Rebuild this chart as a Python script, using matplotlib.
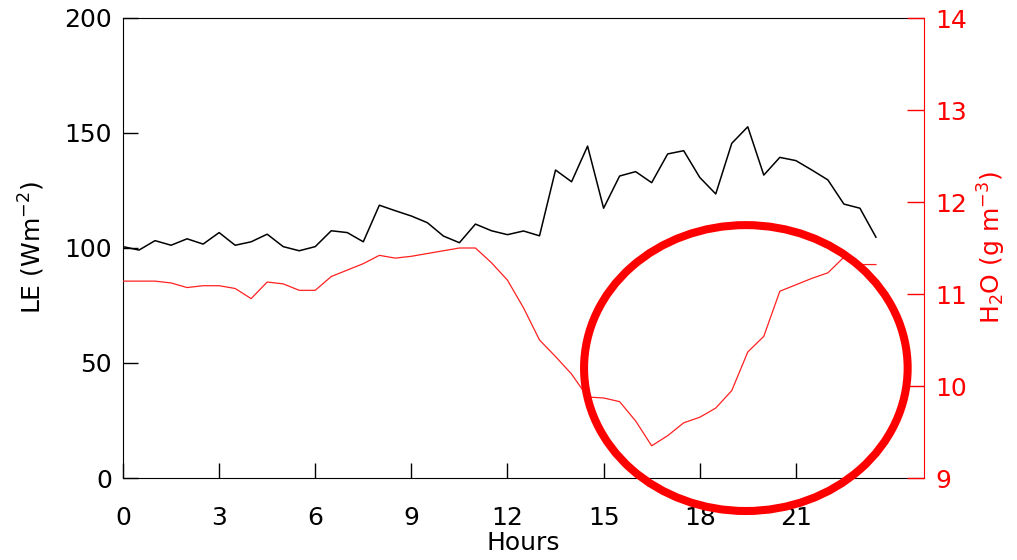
import matplotlib
matplotlib.use("Agg")
import matplotlib.pyplot as plt
from matplotlib.patches import Ellipse
import numpy as np

hours = np.arange(48) * 0.5

le = [100.6, 99.1, 103.2, 101.2, 104.0, 101.7, 106.7, 101.2, 102.7, 106.0,
      100.6, 98.8, 100.6, 107.5, 106.7, 102.7, 118.6, 116.2, 113.9, 111.0,
      105.2, 102.3, 110.4, 107.5, 105.8, 107.4, 105.3, 133.9, 128.8, 144.3,
      117.3, 131.3, 133.2, 128.4, 140.9, 142.3, 130.7, 123.5, 145.5, 152.7,
      131.7, 139.4, 138.0, 133.9, 129.6, 119.1, 117.3, 104.7]

h2o = [11.14, 11.14, 11.14, 11.12, 11.07, 11.09, 11.09, 11.06, 10.95, 11.13,
       11.11, 11.04, 11.04, 11.19, 11.26, 11.33, 11.42, 11.39, 11.41, 11.44,
       11.47, 11.50, 11.50, 11.34, 11.15, 10.85, 10.50, 10.32, 10.13, 9.88,
       9.87, 9.83, 9.62, 9.35, 9.46, 9.60, 9.66, 9.76, 9.95, 10.37,
       10.54, 11.03, 11.10, 11.17, 11.23, 11.40, 11.32, 11.32]

xticks = [0, 3, 6, 9, 12, 15, 18, 21]
le_ticks = [0, 50, 100, 150, 200]
h2o_ticks = [9, 10, 11, 12, 13, 14]

plt.rcParams['font.family'] = ['DejaVu Sans']
fs = 18

fig = plt.figure(figsize=(10.17, 5.60), dpi=100)
ax = fig.add_axes([123/1017, 1-478/560, (924-123)/1017, (478-18)/560])
ax2 = ax.twinx()

ax.plot(hours, le, color='black', lw=1.1)
ax2.plot(hours, h2o, color='#ff2020', lw=0.9)

ax.set_xlim(0, 25)
ax.set_ylim(0, 200)
ax2.set_ylim(9, 14)
ax.set_xticks(xticks)
ax.set_yticks(le_ticks)
ax2.set_yticks(h2o_ticks)

ax.tick_params(axis='x', direction='in', length=11, width=1, labelsize=fs, pad=20)
ax.tick_params(axis='y', direction='in', length=11, width=1, labelsize=fs, pad=8)
ax2.tick_params(axis='y', direction='in', length=12, width=1, labelsize=fs,
                colors='red', pad=8)
for s in ['left', 'bottom', 'top']:
    ax.spines[s].set_color('black')
ax2.spines['right'].set_color('red')
ax2.spines['left'].set_visible(False)
ax2.spines['top'].set_visible(False)
ax2.spines['bottom'].set_visible(False)
ax.spines['right'].set_visible(False)

ax.set_xlabel('Hours', fontsize=fs, labelpad=1)
ax.set_ylabel('LE (Wm$^{-2}$)', fontsize=fs, labelpad=12)
ax2.set_ylabel('H$_2$O (g m$^{-3}$)', fontsize=fs, color='red', labelpad=6)

ell = Ellipse((19.44, 47.8), width=10.1, height=124.3, fill=False,
              edgecolor='red', lw=5.8, clip_on=False, zorder=10)
ax2.add_patch(ell)
ell.set_transform(ax.transData)

fig.savefig('out.png', dpi=100)
